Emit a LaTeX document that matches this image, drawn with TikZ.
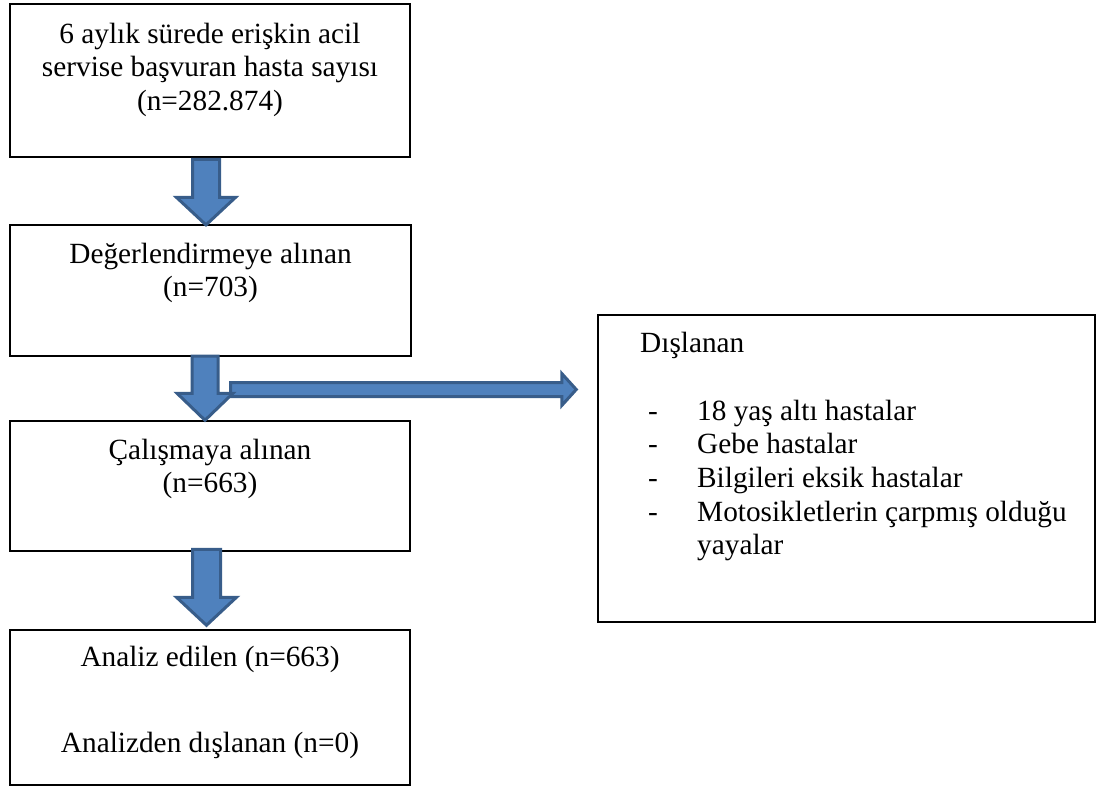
\documentclass[tikz,border=0pt]{standalone}
\usepackage{fontspec}
\setmainfont{Liberation Serif}
\usepackage{xcolor}
\usetikzlibrary{calc}
\definecolor{okdolgu}{HTML}{4F81BD}
\definecolor{okcizgi}{HTML}{385D8A}

\begin{document}
\begin{tikzpicture}[x=1pt, y=-1pt,
    kutu/.style={draw, line width=1.5pt, inner sep=0pt},
    yazi/.style={inner sep=0pt, font=\fontsize{29.3pt}{33.7pt}\selectfont},
    blokok/.style={fill=okdolgu, draw=okcizgi, line width=3pt, line join=miter}]
    \useasboundingbox (0,0) rectangle (1101,787);
    % kutular
    \node[kutu, minimum width=400pt, minimum height=153pt] (basvuru) at (210,80.5) {};
    \node[kutu, line width=2.2pt, minimum width=401pt, minimum height=131pt] (degerlendirme) at (210.5,290.5) {};
    \node[kutu, minimum width=400pt, minimum height=130pt] (calisma) at (210,486) {};
    \node[kutu, minimum width=400pt, minimum height=155pt] (analiz) at (210,707.5) {};
    \node[kutu, minimum width=497pt, minimum height=307pt] (dislanan) at (846.5,468.5) {};
    % metinler
    \node[yazi, anchor=base] (basvuruT) at (210,43) {\begin{tabular}[t]{@{}c@{}}6 aylık sürede erişkin acil\\servise başvuran hasta sayısı\\(n=282.874)\end{tabular}};
    \node[yazi, anchor=base] (degerlendirmeT) at (210.5,263) {\begin{tabular}[t]{@{}c@{}}Değerlendirmeye alınan\\(n=703)\end{tabular}};
    \node[yazi, anchor=base] (calismaT) at (210,459) {\begin{tabular}[t]{@{}c@{}}Çalışmaya alınan\\(n=663)\end{tabular}};
    \node[yazi, anchor=base] (analizT) at (210,666) {Analiz edilen (n=663)};
    \node[yazi, anchor=base] (analizdisT) at (210,752) {Analizden dışlanan (n=0)};
    \node[yazi, anchor=base west] (dislananT) at (640,352) {Dışlanan};
    \foreach \madde [count=\i] in {18 yaş altı hastalar, Gebe hastalar, Bilgileri eksik hastalar, Motosikletlerin çarpmış olduğu} {
      \node[yazi, anchor=base west] (tire\i) at (648,{420+33.7*(\i-1)}) {-};
      \node[yazi, anchor=base west] (madde\i) at (697,{420+33.7*(\i-1)}) {\madde};
    }
    \node[yazi, anchor=base west] (madde5) at (697,554.8) {yayalar};
    % oklar
    \coordinate (yanbas) at ($(degerlendirme.south)+(20,32.5)$);
    \coordinate (yanuc) at ($(dislanan.west)+(-21,-79)$);
    \draw[blokok] ($(yanbas)+(0,-7)$) -- ($(yanuc)+(-14.5,-7)$) -- ($(yanuc)+(-14.5,-16)$) -- (yanuc)
      -- ($(yanuc)+(-14.5,16)$) -- ($(yanuc)+(-14.5,7)$) -- ($(yanbas)+(0,7)$) -- cycle;
    \coordinate (o1u) at ($(basvuru.south)+(-4,1.5)$);
    \coordinate (o1a) at ($(degerlendirme.north)+(-4.5,1)$);
    \coordinate (o2u) at ($(degerlendirme.south)+(-5.5,-1)$);
    \coordinate (o2a) at ($(calisma.north)+(-5,0)$);
    \coordinate (o3u) at ($(calisma.south)+(-3.5,-2.5)$);
    \coordinate (o3a) at ($(analiz.north)+(-3.5,-4)$);
    \foreach \u/\a/\w/\H/\h in {o1u/o1a/13.5/29.5/27.5, o2u/o2a/13/28/27, o3u/o3a/14/30/28} {
      \draw[blokok] ($(\u)+(-\w,0)$) -- ($(\a)+(-\w,-\h)$) -- ($(\a)+(-\H,-\h)$) -- (\a)
        -- ($(\a)+(\H,-\h)$) -- ($(\a)+(\w,-\h)$) -- ($(\u)+(\w,0)$) -- cycle;
    }
\end{tikzpicture}
\end{document}
